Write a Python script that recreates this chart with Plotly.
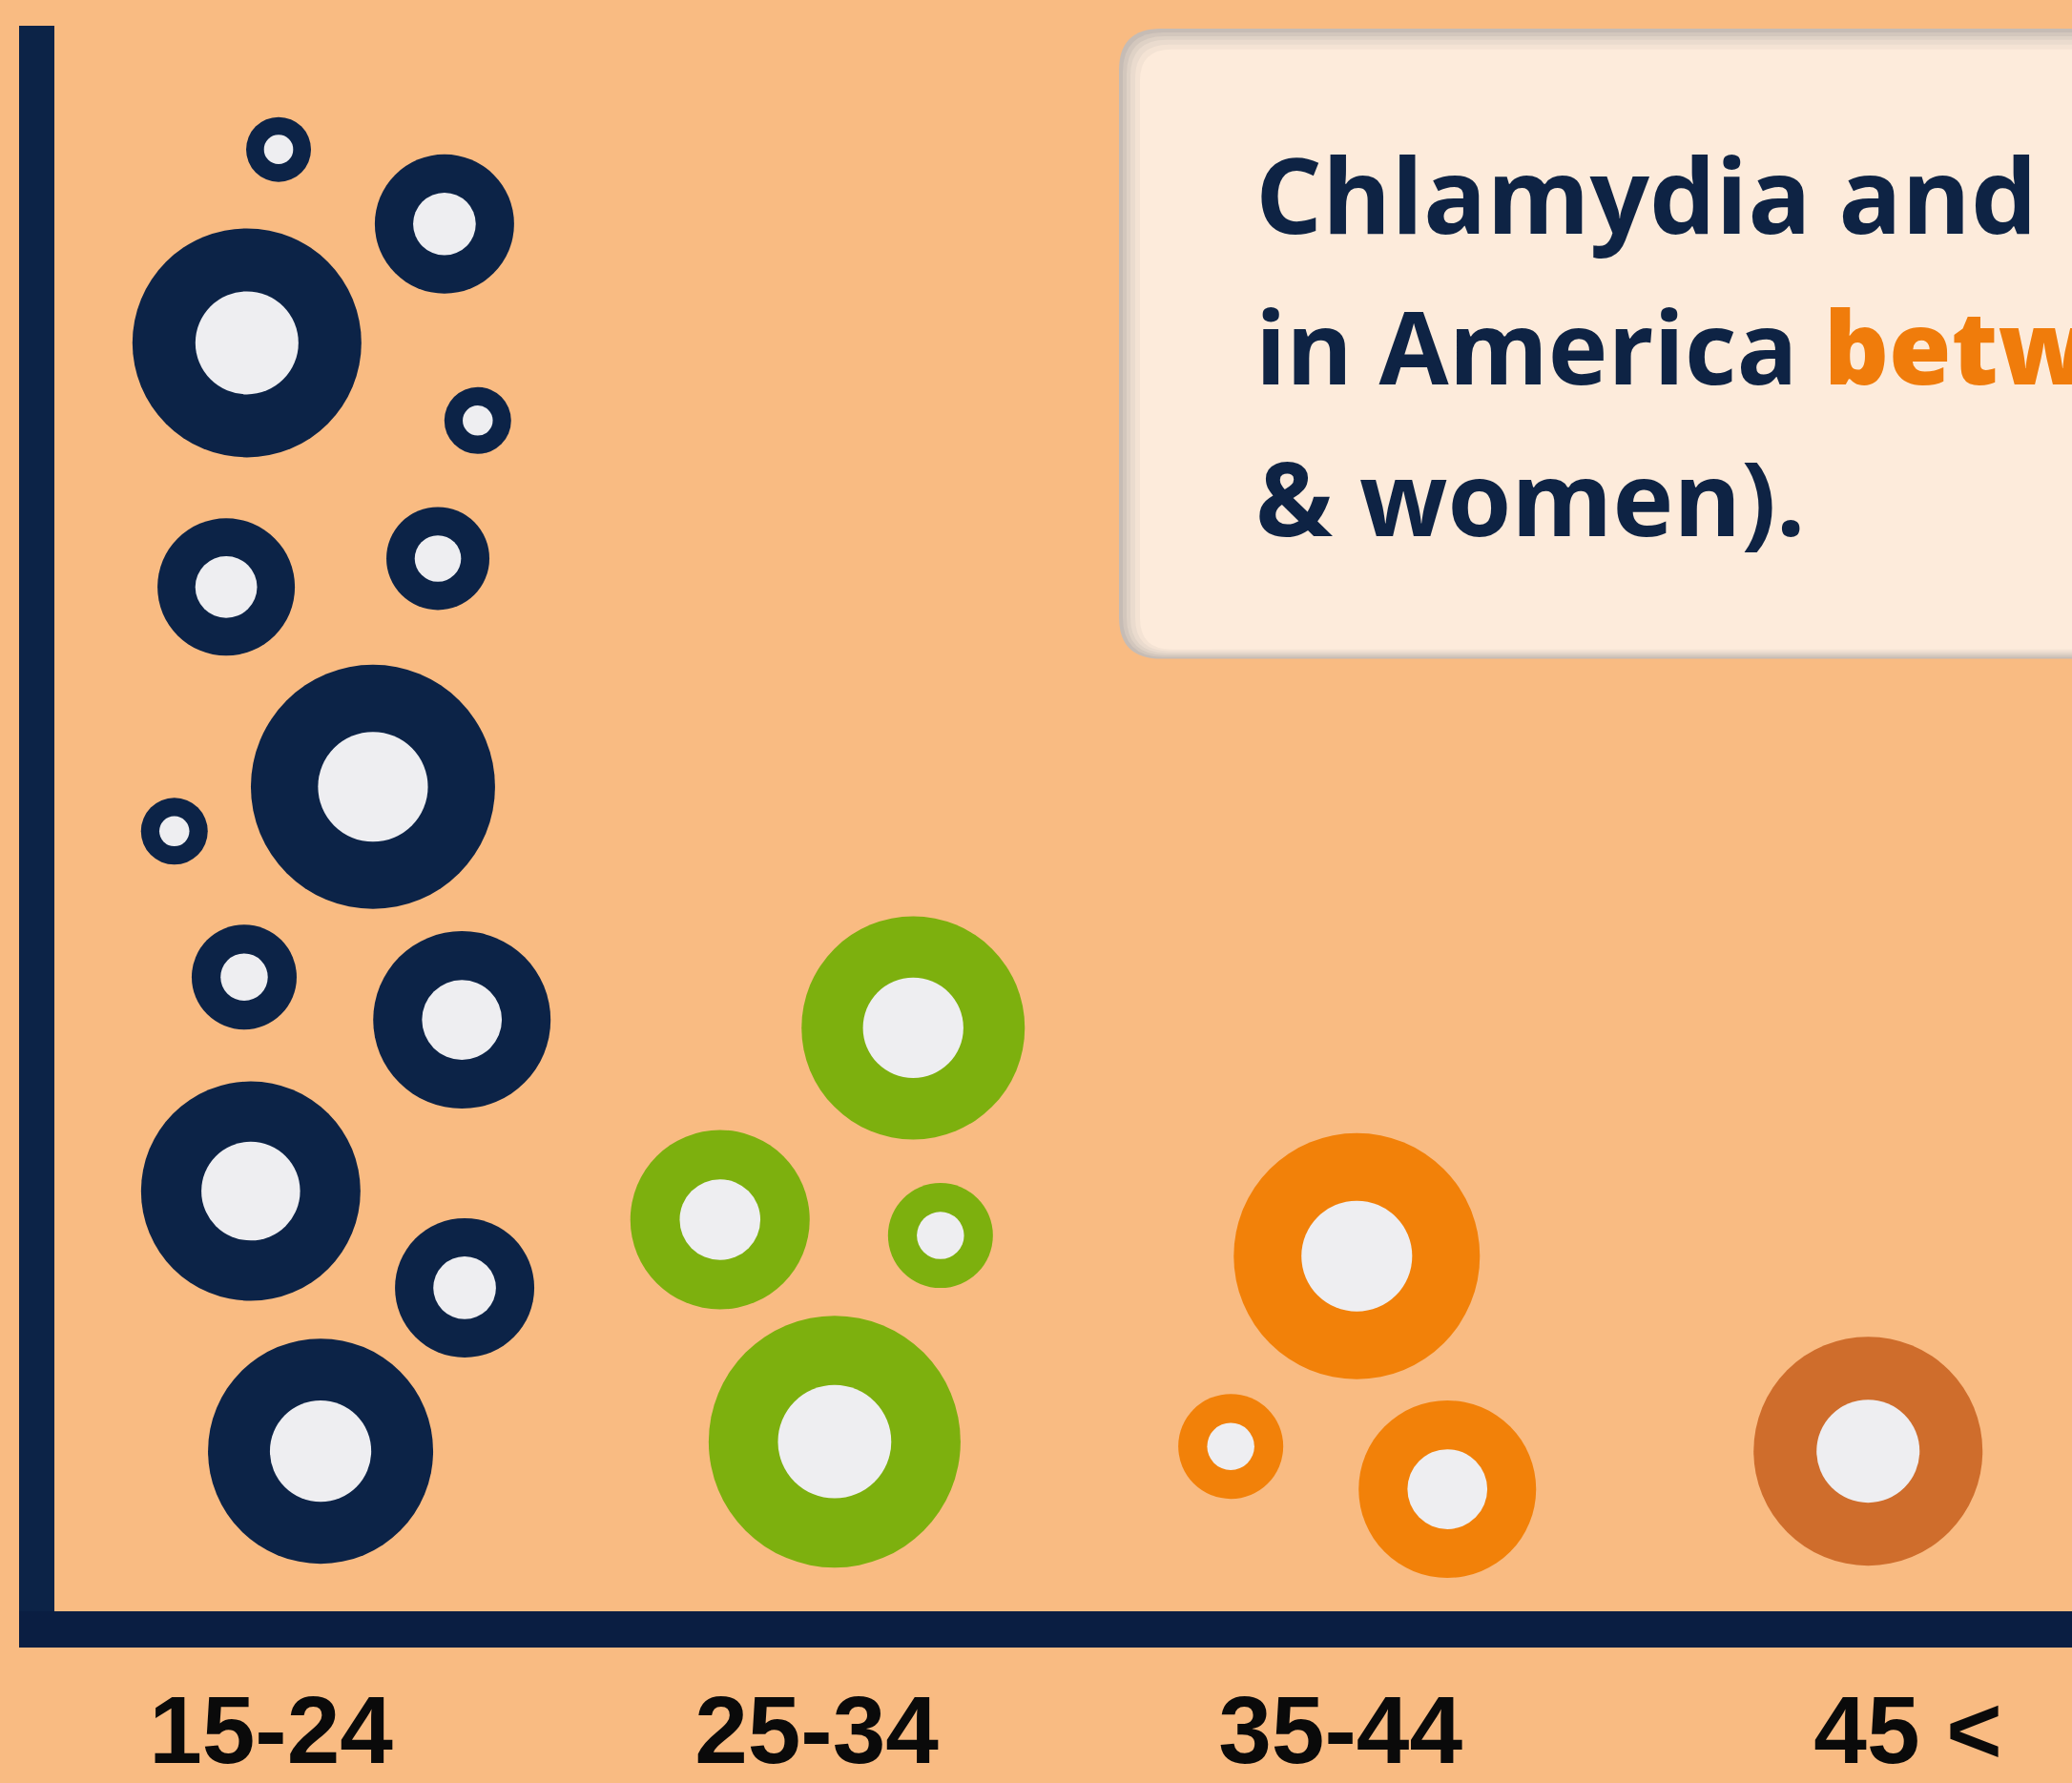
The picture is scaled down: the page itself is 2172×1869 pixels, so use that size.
import plotly.graph_objects as go

# ---------------- data ----------------
age_groups = ["15-24", "25-34", "35-44", "45 <"]

# bubble positions: x in age-group units (0 = 15-24 ... 3 = 45 <), y on a 0-100 scale
navy_x = [0.014, 0.318, -0.044, 0.379, -0.082, 0.306, 0.187, -0.177, -0.049, 0.350, -0.037, 0.355, 0.091]
navy_y = [92.2, 87.5, 80.0, 75.1, 64.6, 66.4, 52.0, 49.2, 40.0, 37.3, 26.5, 20.4, 10.1]
navy_v = [68, 146, 240, 70, 144, 108, 256, 70, 110, 186, 230, 146, 236]

green_x = [1.177, 0.823, 1.227, 1.033]
green_y = [36.8, 24.7, 23.7, 10.7]
green_v = [234, 188, 110, 264]

orange_x = [1.990, 1.759, 2.156]
orange_y = [22.4, 10.4, 7.7]
orange_v = [258, 110, 186]

rust_x = [2.927]
rust_y = [10.1]
rust_v = [240]

tick_pos = [0, 1, 1.96, 3]

# ---------------- styling ----------------
W, H = 2172, 1869
ML, MR, MT, MB = 57, 0, 27, 164
PW, PH = W - ML - MR, H - MT - MB

BG = "#F9BB82"
NAVY = "#0C2347"
GREEN = "#7DB00E"
ORANGE = "#F28109"
RUST = "#CF6D2C"
INNER = "#EEEEF1"
INNER_RATIO = 0.45

fig = go.Figure()


def add_group(xs, ys, vs, color):
    fig.add_trace(go.Scatter(
        x=xs, y=ys, mode="markers", hoverinfo="skip", showlegend=False,
        marker=dict(size=vs, sizemode="diameter", color=color,
                    line=dict(width=0), opacity=1),
    ))
    fig.add_trace(go.Scatter(
        x=xs, y=ys, mode="markers", hoverinfo="skip", showlegend=False,
        marker=dict(size=[v * INNER_RATIO for v in vs], sizemode="diameter",
                    color=INNER, line=dict(width=0), opacity=1),
    ))


add_group(navy_x, navy_y, navy_v, NAVY)
add_group(green_x, green_y, green_v, GREEN)
add_group(orange_x, orange_y, orange_v, ORANGE)
add_group(rust_x, rust_y, rust_v, RUST)


# ---------------- text box with inset shadow ----------------
def px(xp):
    return (xp - ML) / PW


def py(yp):
    return (MT + PH - yp) / PH


def rounded_rect(x0, y0, x1, y1, r):
    rx, ry = r / PW, r / PH
    X0, X1 = px(x0), px(x1)
    Y0, Y1 = py(y0), py(y1)  # Y0 is top (larger)
    return (f"M {X0 + rx},{Y0} L {X1 - rx},{Y0} Q {X1},{Y0} {X1},{Y0 - ry} "
            f"L {X1},{Y1 + ry} Q {X1},{Y1} {X1 - rx},{Y1} "
            f"L {X0 + rx},{Y1} Q {X0},{Y1} {X0},{Y1 + ry} "
            f"L {X0},{Y0 - ry} Q {X0},{Y0} {X0 + rx},{Y0} Z")


box_l, box_t, box_r, box_b, box_rad = 1173, 30, 2260, 697, 44
layers = [
    (0, 0, 0, "#C6BCB5"),
    (4, 4, 2, "#D3C7BD"),
    (8, 8, 4, "#DFD2C6"),
    (12, 12, 6, "#EADBCE"),
    (17, 17, 8, "#F4E3D4"),
    (22, 22, 10, "#FDEBDB"),
]
shapes = []
for dl, dt, db, col in layers:
    shapes.append(dict(type="path", xref="paper", yref="paper",
                       path=rounded_rect(box_l + dl, box_t + dt, box_r, box_b - db, box_rad - dl * 0.5),
                       fillcolor=col, line=dict(width=0), layer="above"))

TXT = "#0E2344"
HL = "#F07C0B"
text_x = 1314
lines = [
    ("Chlamydia and", 244, 110),
    ("in America <span style='color:%s;font-weight:800'>between the ages of 15-24</span> (men" % HL, 405, 106),
    ("&amp; women).", 565, 108),
]
annotations = []
for txt, base, fs in lines:
    annotations.append(dict(
        xref="paper", yref="paper", x=px(text_x), y=py(base - 40),
        xanchor="left", yanchor="middle", showarrow=False, align="left",
        text=txt,
        font=dict(family="Open Sans", size=fs, color=TXT, weight=700),
    ))

fig.update_layout(
    width=W, height=H, autosize=False,
    margin=dict(l=ML, r=MR, t=MT, b=MB, pad=0),
    paper_bgcolor=BG, plot_bgcolor=BG,
    shapes=shapes, annotations=annotations,
    showlegend=False,
    xaxis=dict(
        range=[-(284 - ML) / 572, -(284 - ML) / 572 + PW / 572],
        tickmode="array", tickvals=tick_pos, ticktext=age_groups,
        ticks="", showgrid=False, zeroline=False,
        showline=True, linewidth=38, linecolor="#0A1E42",
        tickfont=dict(family="Liberation Sans", size=100, color="#0A0A0A", weight=700),
        ticklabelstandoff=1, fixedrange=True,
    ),
    yaxis=dict(
        range=[0, 100], showticklabels=False, ticks="", showgrid=False,
        zeroline=False, showline=True, linewidth=37, linecolor=NAVY,
        fixedrange=True,
    ),
)

fig.write_html(
    "out.html",
    config={"displayModeBar": False},
    post_script="document.body.style.margin='0';document.body.style.padding='0';"
                "document.body.style.overflow='hidden';"
                "document.body.style.background='%s';" % BG,
)
